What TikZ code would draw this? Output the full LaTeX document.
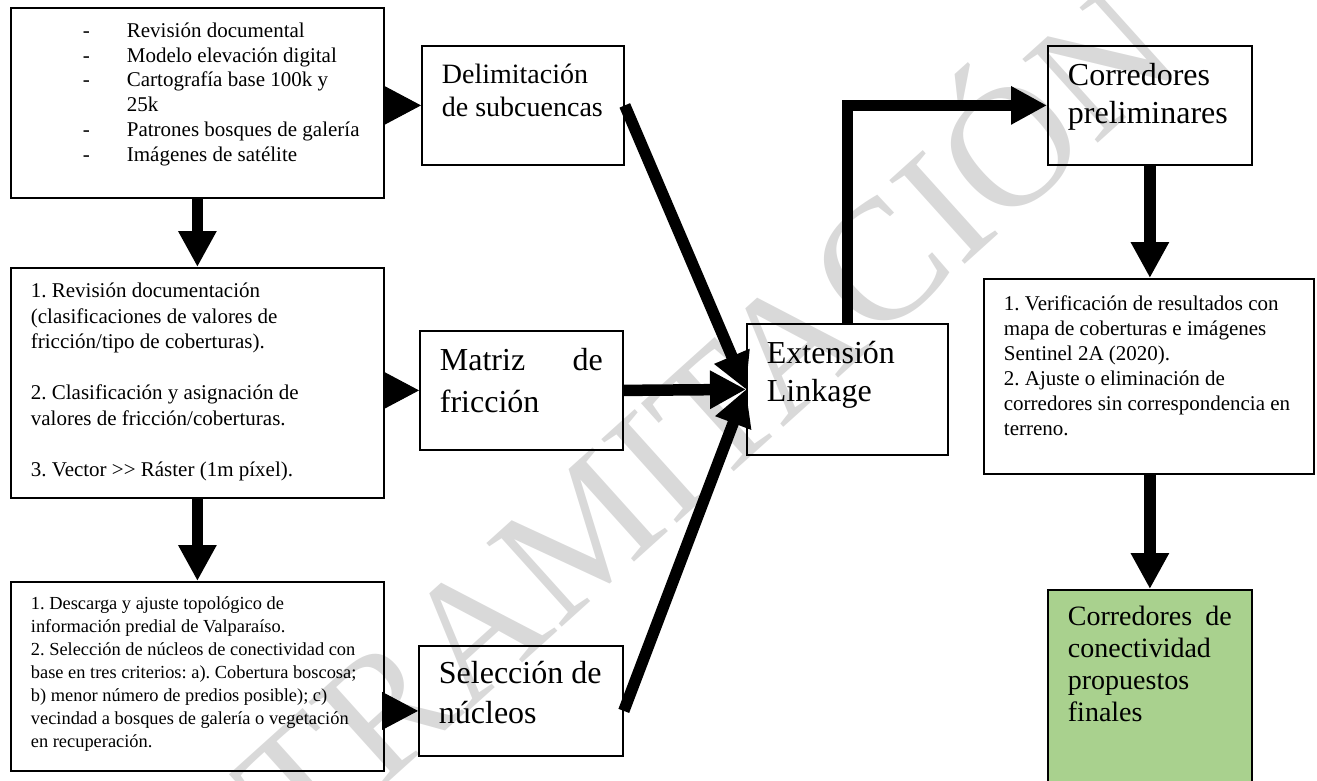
\documentclass[tikz,border=0pt]{standalone}
\usepackage{fontspec}
\setmainfont{Liberation Serif}
\usetikzlibrary{arrows.meta}
\frenchspacing

\newlength{\px}
\setlength{\px}{0.5pt}
\newcommand{\cuadro}[4]{\parbox[c][#2\px][t]{#1\px}{\raggedright\vspace*{#3\px}\strut #4}}
\newcommand{\guion}{\hspace*{52\px}\makebox[44\px][l]{-}}

\definecolor{marca}{RGB}{217,217,217}
\definecolor{verdecaja}{RGB}{169,209,142}

\tikzset{
	caja/.style={draw, line width=0.9pt, anchor=north west, inner xsep=10pt, inner ysep=0pt},
	grande/.style={font=\fontsize{16}{19}\selectfont},
	flecha/.style={line width=5.75pt, -{Triangle[length=18pt,width=18pt]}},
	punta/.style={line width=0.5pt, -{Triangle[length=18pt,width=19pt]}},
	sello/.style={text=marca, font=\fontsize{86}{86}\selectfont, rotate=42, anchor=base}
}

\begin{document}
\begin{tikzpicture}[x=0.5pt, y=-0.5pt]
	\useasboundingbox (0, 0) rectangle (1317, 781);
	\node[sello] (agua) at (745, 462) {TRAMITACIÓN};

	\node[caja, font=\fontsize{10.5}{12.35}\selectfont] (fuentes) at (10, 7) {\cuadro{333}{190}{12.4}{%
		\guion Revisión documental\\
		\guion Modelo elevación digital\\
		\guion Cartografía base 100k y\\
		\hspace*{96\px}25k\\
		\guion Patrones bosques de galería\\
		\guion Imágenes de satélite}};
	\node[caja, font=\fontsize{10.5}{12.75}\selectfont] (friccion) at (10, 267) {\cuadro{333}{230}{11.8}{%
		1. Revisión documentación\\
		(clasificaciones de valores de\\
		fricción/tipo de coberturas).\\[12.75pt]
		2. Clasificación y asignación de\\
		valores de fricción/coberturas.\\[12.75pt]
		3. Vector >{}> Ráster (1m píxel).}};
	\node[caja, font=\fontsize{9.2}{11.5}\selectfont] (predios) at (10, 581) {\cuadro{333}{189}{11}{%
		1. Descarga y ajuste topológico de\\
		información predial de Valparaíso.\\
		2. Selección de núcleos de conectividad con\\
		base en tres criterios: a). Cobertura boscosa;\\
		b) menor número de predios posible); c)\\
		vecindad a bosques de galería o vegetación\\
		en recuperación.}};

	\node[caja, font=\fontsize{14}{16.5}\selectfont] (subcuencas) at (421, 45) {\cuadro{162}{119}{15}{Delimitación\\ de subcuencas}};
	\node[caja, font=\fontsize{16}{21}\selectfont] (matriz) at (419, 330) {\cuadro{163}{119}{10.6}{Matriz\hfill de\\ fricción}};
	\node[caja, font=\fontsize{16}{20}\selectfont] (nucleos) at (418, 645) {\cuadro{164}{110}{10}{Selección de\\ núcleos}};
	\node[caja, grande] (linkage) at (746, 323) {\cuadro{161}{131}{13.4}{Extensión\\ Linkage}};
	\node[caja, grande] (preliminares) at (1047, 45) {\cuadro{164}{119}{13.4}{Corredores\\ preliminares}};
	\node[caja, font=\fontsize{10.5}{12.5}\selectfont] (verificacion) at (983, 278) {\cuadro{290}{195}{14.5}{%
		1. Verificación de resultados con\\
		mapa de coberturas e imágenes\\
		Sentinel 2A (2020).\\
		2. Ajuste o eliminación de\\
		corredores sin correspondencia en\\
		terreno.}};
	\node[caja, fill=verdecaja, font=\fontsize{14}{16}\selectfont] (finales) at (1047, 589) {\cuadro{164}{212}{13.6}{Corredores\hfill de\\ conectividad\\ propuestos\\ finales}};

	\coordinate (entrada) at ([yshift=-5pt]nucleos.west);

	\draw[punta] (fuentes.east |- subcuencas.west) -- (subcuencas.west);
	\draw[flecha] (fuentes.south) -- (friccion.north);
	\draw[punta] (friccion.east |- matriz.west) -- (matriz.west);
	\draw[flecha] (friccion.south) -- (predios.north);
	\draw[punta] (predios.east |- entrada) -- (entrada);

	\draw[flecha] (subcuencas.east) -- (linkage.west);
	\draw[flecha] (matriz.east) -- (linkage.west);
	\draw[flecha] (entrada -| nucleos.east) -- (linkage.west);
	\draw[flecha] (linkage.north) |- (preliminares.west);
	\draw[flecha] (preliminares.south) -- (preliminares.south |- verificacion.north);
	\draw[flecha] (verificacion.south -| finales.north) -- (finales.north);
\end{tikzpicture}
\end{document}
